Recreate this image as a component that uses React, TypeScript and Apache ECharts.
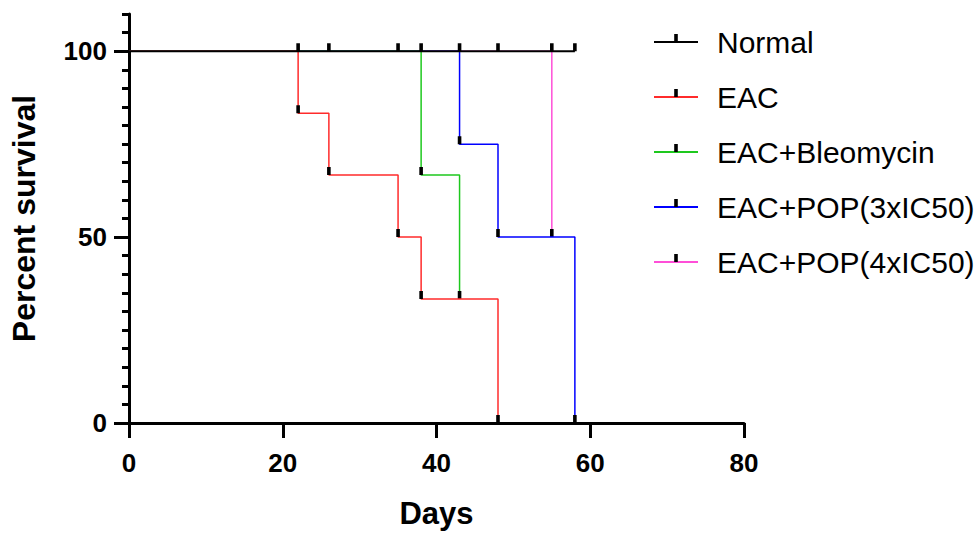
import React, { useEffect, useRef } from "react";
import * as echarts from "echarts";

const NAMES = ["Normal", "EAC", "EAC+Bleomycin", "EAC+POP(3xIC50)", "EAC+POP(4xIC50)"];
const COLORS = ["#000000", "#ff2b2b", "#1ec81e", "#0000ff", "#ff4fd8"];
const LINE_WIDTHS = [2, 1.5, 1.5, 1.5, 1.5];

const DAYS_NORMAL = [0, 22, 26, 35, 38, 43, 48, 55, 58];
const SURV_NORMAL = [100, 100, 100, 100, 100, 100, 100, 100, 100];
const DAYS_EAC = [0, 22, 26, 35, 38, 48];
const SURV_EAC = [100, 83.33, 66.67, 50, 33.33, 0];
const DAYS_BLEO = [0, 38, 43];
const SURV_BLEO = [100, 66.67, 33.33];
const DAYS_POP3 = [0, 43, 48, 58];
const SURV_POP3 = [100, 75, 50, 0];
const DAYS_POP4 = [0, 55];
const SURV_POP4 = [100, 50];

const X_TICKS = [0, 20, 40, 60, 80];
const Y_TICKS = [0, 50, 100];

const TICK_SYMBOL =
  "path://M0,0L0.001,0L0,0.001Z M16,16L15.999,16L16,15.999Z M6.2,0L9.8,0L9.8,8L6.2,8Z";

const FONT = "'Liberation Sans', Arial, sans-serif";

function build(days: number[], surv: number[]) {
  return days.map((d, i) =>
    i === 0 ? { value: [d, surv[i]], symbol: "none" } : [d, surv[i]]
  );
}

export default function App() {
  const ref = useRef<HTMLDivElement>(null);
  useEffect(() => {
    if (!ref.current) return;
    const chart = echarts.init(ref.current, null, { renderer: "svg" });
    const sets = [
      build(DAYS_NORMAL, SURV_NORMAL),
      build(DAYS_EAC, SURV_EAC),
      build(DAYS_BLEO, SURV_BLEO),
      build(DAYS_POP3, SURV_POP3),
      build(DAYS_POP4, SURV_POP4),
    ];
    chart.setOption({
      animation: false,
      backgroundColor: "#ffffff",
      grid: { left: 129, right: 232, top: 14, bottom: 111, containLabel: false },
      legend: {
        orient: "vertical",
        left: 648,
        top: 22,
        itemWidth: 44,
        itemHeight: 20,
        itemGap: 25,
        selectedMode: false,
        data: NAMES,
        textStyle: {
          fontFamily: FONT,
          fontSize: 30,
          color: "#000",
          lineHeight: 29,
          padding: [0, 0, 0, 14],
        },
      },
      xAxis: {
        type: "value",
        min: 0,
        max: 80,
        interval: 20,
        name: "Days",
        nameLocation: "middle",
        nameGap: 75,
        nameTextStyle: { fontFamily: FONT, fontSize: 31, fontWeight: "bold", color: "#000" },
        axisLine: { show: true, lineStyle: { color: "#000", width: 3 } },
        axisTick: { show: true, length: 15, lineStyle: { color: "#000", width: 3 }, customValues: X_TICKS },
        axisLabel: {
          margin: 27,
          fontFamily: FONT,
          fontSize: 26,
          fontWeight: "bold",
          color: "#000",
          customValues: X_TICKS,
        },
        splitLine: { show: false },
      },
      yAxis: [
        {
          type: "value",
          position: "left",
          min: 0,
          max: 110,
          interval: 50,
          name: "Percent survival",
          nameLocation: "middle",
          nameGap: 89,
          nameTextStyle: { fontFamily: FONT, fontSize: 32, fontWeight: "bold", color: "#000" },
          axisLine: { show: true, lineStyle: { color: "#000", width: 3 } },
          axisTick: { show: true, length: 15, lineStyle: { color: "#000", width: 3 }, customValues: Y_TICKS },
          axisLabel: {
            margin: 22,
            fontFamily: FONT,
            fontSize: 26,
            fontWeight: "bold",
            color: "#000",
            customValues: Y_TICKS,
          },
          splitLine: { show: false },
        },
        {
          type: "value",
          position: "left",
          offset: 0,
          min: 0,
          max: 110,
          interval: 5,
          axisLine: { show: false },
          axisTick: { show: true, length: 7, lineStyle: { color: "#000", width: 3 } },
          axisLabel: { show: false },
          splitLine: { show: false },
        },
      ],
      series: sets.map((data, i) => ({
        name: NAMES[i],
        type: "line",
        step: "end",
        data,
        xAxisIndex: 0,
        yAxisIndex: 0,
        z: 10 - i,
        symbol: TICK_SYMBOL,
        symbolSize: 16,
        showSymbol: true,
        showAllSymbol: true,
        silent: true,
        emphasis: { disabled: true },
        color: COLORS[i],
        itemStyle: { color: "#000", borderWidth: 0 },
        lineStyle: { color: COLORS[i], width: LINE_WIDTHS[i] },
      })),
    });
    return () => chart.dispose();
  }, []);
  return (
    <div
      ref={ref}
      style={{ position: "absolute", left: 0, top: 0, width: 976, height: 534 }}
    />
  );
}
